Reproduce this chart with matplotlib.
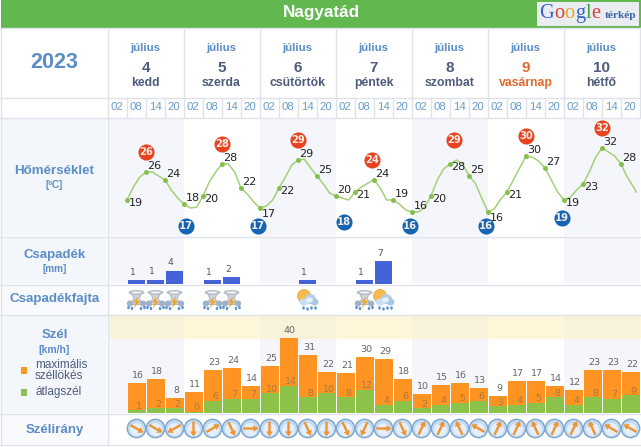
import numpy as np
import matplotlib
matplotlib.use("Agg")
import matplotlib.pyplot as plt
from matplotlib.patches import Rectangle, Circle, Ellipse, Polygon
from matplotlib.transforms import Affine2D

plt.rcParams['font.family'] = ['Liberation Sans', 'DejaVu Sans']

TITLE = "Nagyatád"
YEAR = "2023"
months = ["július"] * 7
day_numbers = ["4", "5", "6", "7", "8", "9", "10"]
weekdays = ["kedd", "szerda", "csütörtök", "péntek", "szombat", "vasárnap", "hétfő"]
hours = ["02", "08", "14", "20"]

temp_labels = [19, 26, 24, 18, 20, 28, 22, 17, 22, 29, 25, 20, 21, 24, 19, 16, 20, 28, 25, 16, 21, 30, 27, 19, 23, 32, 28]
temp_line = [19, 22.2, 24.7, 26, 26, 25, 24, 21.5, 19.5, 18, 17, 17.2, 20, 23.5, 26, 28, 28, 26, 22,
             20.5, 18.5, 17, 17.5, 19, 22, 24.7, 27.7, 29, 29.2, 27, 25, 23, 20.7, 20, 19.5, 19, 21,
             22.2, 23.2, 24, 22, 19, 19, 18, 16.5, 16, 16, 17.2, 20, 24, 26.8, 28, 29, 28, 25,
             23.2, 19.5, 16, 16.8, 19.2, 21, 24, 27, 30, 29.7, 28.7, 27, 24, 21, 19, 19.7, 21.5, 23,
             26, 29.7, 32, 31, 30, 28, 24.7, 22.2, 21]
temp_below = [1, 0, 0, 0, 1, 0, 0, 2, 1, 0, 0, 0, 1, 0, 0, 0, 1, 1, 0, 2, 1, 0, 0, 1, 1, 0, 0]
max_slots = [2.0, 6.0, 10.0, 13.9, 18.2, 22.0, 26.0]
max_values = [26, 28, 29, 24, 29, 30, 32]
min_slots = [4.1, 7.9, 12.4, 15.9, 19.9, 23.9]
min_values = [17, 17, 18, 16, 16, 19]

rain_slots = [1, 2, 3, 5, 6, 10, 13, 14]
rain_values = [1, 1.2, 4, 1, 2, 1, 1, 7]
rain_labels = ["1", "1", "4", "1", "2", "1", "1", "7"]
icon_slots = [1, 2, 3, 5, 6, 10, 13, 14]
icon_kinds = ["storm", "storm", "storm", "storm", "storm", "sun", "storm", "sun"]

gust = [16, 18, 8, 11, 23, 24, 14, 25, 40, 31, 22, 21, 30, 29, 18, 10, 15, 16, 13, 9, 17, 17, 14, 12, 23, 23, 22]
wind = [1, 2, 2, 0, 6, 7, 7, 10, 14, 8, 10, 8, 12, 4, 6, 2, 4, 5, 6, 3, 4, 5, 8, 4, 8, 7, 9]
bearing = [120, 120, 240, 180, 60, 155, 90, 180, 180, 155, 180, 155, 205, 90,
           155, 25, 25, 335, 300, 25, 25, 335, 25, 25, 335, 300, 300]

W, H = 641, 447
BLUE = "#5b8dc6"
DARK = "#4e5b7c"
SUN = "#dd6a2f"
LINE = "#dfe3e9"
SHADE = "#f4f6fb"
X0, SLOT = 108, 19

fig = plt.figure(figsize=(W / 100, H / 100), dpi=100, facecolor="white")
bg = fig.add_axes([0, 0, 1, 1])
bg.set_xlim(0, W); bg.set_ylim(H, 0); bg.axis("off")


def rect(x0, y0, x1, y1, color, z=1):
    bg.add_patch(Rectangle((x0, y0), x1 - x0, y1 - y0, fc=color, ec="none", zorder=z))


def label(x, y, s, size, color=BLUE, weight="bold", ha="center", **kw):
    bg.text(x, y, s, fontsize=size, color=color, fontweight=weight, ha=ha, va="center", **kw)


def panel(y0, y1, ylim):
    ax = fig.add_axes([X0 / W, 1 - y1 / H, SLOT * 28 / W, (y1 - y0) / H])
    ax.set_xlim(0, 28); ax.set_ylim(*ylim); ax.axis("off"); ax.patch.set_alpha(0)
    return ax


# ---- backgrounds and table rules
rect(1, 0, W, 28, "#62b84f")
rect(1, 118, 107, 236, "#f3f6fb")
rect(1, 237, 107, 284, "#f3f6fb")
rect(1, 285, 107, 314, "#f8fafd")
rect(1, 315, 107, 413, "#f3f6fb")
rect(1, 414, 107, 444, "#f8fafd")
rect(108, 315, W, 339, "#fdf6d9")
for d in (0, 2, 4, 6):
    x0, x1 = X0 + d * 76, X0 + (d + 1) * 76
    rect(x0, 118, x1, 236, SHADE)
    rect(x0, 237, x1, 284, SHADE)
    rect(x0, 339, x1, 413, SHADE)
    rect(x0, 315, x1, 339, "#f9f2da")
for y in (28, 98, 117.5, 236.5, 284.5, 314.5, 413.5, 444.5):
    bg.plot([0, W], [y, y], color=LINE, lw=1, zorder=2)
bg.plot([0.5, 0.5], [28, 445], color=LINE, lw=1, zorder=2)
bg.plot([107.5, 107.5], [28, 445], color=LINE, lw=1, zorder=2)
for d in range(1, 8):
    bg.plot([X0 + d * 76 - .5] * 2, [28, 98], color=LINE, lw=1, zorder=2)
for s in range(1, 29):
    bg.plot([X0 + s * SLOT - .5] * 2, [98, 117], color=LINE, lw=1, zorder=2)

# ---- header texts
label(321, 13, TITLE, 12.3, "white")
rect(537, 2, 639, 26, "#e9edf2", 2)
gx = 539
renderer = fig.canvas.get_renderer()
for ch, col in zip("Google", ["#3a62c4", "#d8402e", "#e5a825", "#3a62c4", "#3f9a45", "#d8402e"]):
    t = bg.text(gx, 13.5, ch, fontsize=14.6, family="Liberation Serif", color=col, va="center", ha="left", zorder=3)
    gx += t.get_window_extent(renderer).width + 0.3
bg.text(620.5, 15.5, "térkép", fontsize=8.2, family="Liberation Serif", fontweight="bold", color="#3a62a4",
        va="center", ha="center", zorder=3)
label(54.5, 63, YEAR, 15.5, "#5b8dc6")
for d in range(7):
    cx = X0 + (d + .5) * 76 - 0.5
    col = SUN if weekdays[d] == "vasárnap" else DARK
    label(cx, 48, months[d], 8.2, BLUE)
    label(cx, 68, day_numbers[d], 11, col)
    label(cx, 83, weekdays[d], 8.8, col)
    for h, hh in enumerate(hours):
        label(X0 + (d * 4 + h + .5) * SLOT - .5, 107.5, hh, 8.2, "#6a9ccb", weight="normal")

# ---- left column
label(54.5, 171, "Hőmérséklet", 9.6)
label(54.5, 185, "[ºC]", 7.2)
label(54.5, 255, "Csapadék", 9.5)
label(54.5, 269, "[mm]", 7.2)
label(54.5, 299, "Csapadékfajta", 9.6)
label(54.5, 335, "Szél", 9.5)
label(54.5, 350, "[km/h]", 7.5)
rect(21, 367, 27, 374, "#f59a23", 3)
rect(21, 389, 27, 396, "#8cc152", 3)
label(35, 365, "maximális", 8.5, DARK, "normal", "left")
label(35, 376, "széllökés", 8.5, DARK, "normal", "left")
label(35, 392, "átlagszél", 8.5, DARK, "normal", "left")
label(55, 430, "Szélirány", 9.5)

# ---- temperature
ax_t = panel(118, 236, (10, 39.5))
line_x = np.append(1 + np.arange(len(temp_line) - 1) / 3, 27.8)
ax_t.plot(line_x, temp_line, color="#a3d177", lw=1.1, zorder=3, solid_joinstyle="round")
mark_x = np.arange(1, len(temp_labels) + 1)
ax_t.plot(mark_x, temp_labels, ls="none", marker="o", ms=3.6, mfc="#86c04c", mec="none", zorder=4)
for x, v, b in zip(mark_x, temp_labels, temp_below):
    dy = {0: 6, 1: -3, 2: -6}[b]
    ax_t.annotate(str(v), (x, v), xytext=(8.5, dy), textcoords="offset pixels", ha="center", va="center",
                  fontsize=8, family="DejaVu Sans", color="#222222", zorder=5)
for xs, vs, col, f in ((max_slots, max_values, "#e8431f", lambda v: v + 5),
                       (min_slots, min_values, "#1665b2", lambda v: max(v - 4.5, 12.5))):
    for x, v in zip(xs, vs):
        ax_t.plot([x], [f(v)], ls="none", marker="o", ms=11.6, mfc=col, mec="none", zorder=6)
        ax_t.text(x, f(v), str(v), color="#f6ece8", fontsize=7.2, fontweight="bold", family="DejaVu Sans",
                  ha="center", va="center", zorder=7)

# ---- rain
ax_r = panel(240, 283.5, (0, 43.5 / 3.2))
rs = np.array(rain_slots) + .52
ax_r.bar(rs, rain_values, width=.9, color="#4563d8", zorder=3)
for x, v, s in zip(rs, rain_values, rain_labels):
    ax_r.annotate(s, (x, v), xytext=(-4, 8), textcoords="offset pixels", ha="center", va="center",
                  fontsize=6.6, family="DejaVu Sans", color="#555555")

# ---- precipitation type icons
ax_i = panel(285, 314, (0, 1))


def glyph(ax, x, y):
    cx, cy = ax.transData.transform((x, y))
    return Affine2D().scale(1, -1).translate(cx, cy)


def draw_drops(add, cols):
    for dx, dy in cols:
        add(Ellipse((dx, dy), 2.6, 3.4, fc="#5f93cc", ec="none"))


def storm(ax, x):
    tr = glyph(ax, x, .5)
    add = lambda p: (p.set_transform(tr), p.set_clip_on(False), ax.add_artist(p))
    add(Polygon([(-5, -6), (5, -6), (2.5, -1), (7, 5), (-7, 5), (-2.5, -1)], fc="#cdd3db", ec="#a9b2bd", lw=.6))
    add(Ellipse((0, -7), 16, 5, fc="#b4bcc7", ec="none"))
    add(Ellipse((0, -7), 10, 2.4, fc="#eef0f3", ec="none"))
    add(Ellipse((-6.5, 4), 6.5, 6, fc="#9fb2c7", ec="none"))
    add(Ellipse((6.5, 4), 6.5, 6, fc="#9fb2c7", ec="none"))
    add(Polygon([(1.5, -3), (-3.5, 3), (-.5, 3), (-3, 9), (3.5, 1.5), (.5, 1.5)], fc="#f2a31f", ec="none"))
    draw_drops(add, ((-8, 8), (-4.5, 9), (4.5, 9), (8, 8)))


def sunny(ax, x):
    tr = glyph(ax, x, .5)
    add = lambda p: (p.set_transform(tr), p.set_clip_on(False), ax.add_artist(p))
    add(Circle((-3.5, -3.5), 6.5, fc="#f7bb52", ec="#ec9f37", lw=.5))
    add(Ellipse((3, -.5), 11, 10, fc="#b4d0ea", ec="none"))
    add(Ellipse((-3.5, 2.5), 9, 7, fc="#c9def2", ec="none"))
    add(Ellipse((7, 2.5), 8, 7, fc="#a9c8e6", ec="none"))
    add(Ellipse((2, .5), 7, 5, fc="#e6f0fa", ec="none"))
    draw_drops(add, ((-4, 8.5), (0, 9.5), (4, 8.5), (8, 8.5)))


for s, k in zip(icon_slots, icon_kinds):
    (storm if k == "storm" else sunny)(ax_i, s + .5)

# ---- wind
ax_w = panel(322, 412.5, (-0.3, 90.5 / 1.86 - 0.3))
ws = np.arange(1, len(gust) + 1) + .52
ax_w.bar(ws, gust, width=.92, color="#ff9422", zorder=3, bottom=-0.3)
ax_w.bar(ws, np.array(wind) + .3, width=.92, color="#8cc24a", zorder=4, bottom=-0.3)
for x, g, v in zip(ws, gust, wind):
    ax_w.annotate(str(g), (x, g), xytext=(1, 7), textcoords="offset pixels", ha="center", va="center",
                  fontsize=6.8, family="DejaVu Sans", color="#666666", zorder=5)
    ax_w.annotate(str(v), (x, v), xytext=(2.5, 4), textcoords="offset pixels", ha="center", va="center",
                  fontsize=6.8, family="DejaVu Sans", color="#a9793f", zorder=5)

# ---- wind direction
ax_d = panel(414, 443, (0, 1))
for x, b in zip(ws, bearing):
    tr = glyph(ax_d, x - .02, .5)
    rot = Affine2D().rotate_deg(b - 180) + tr
    for p, t in ((Circle((0, 0), 9.2, fc="#c3daf2", ec="#7ea7cc", lw=1), tr),
                 (Circle((0, 1), 6.5, fc="#e4effa", ec="none"), tr),
                 (Polygon([(-1.2, -7), (1.2, -7), (1.2, 3), (3.4, 3), (0, 8), (-3.4, 3), (-1.2, 3)],
                          fc="#ef9431", ec="none"), rot)):
        p.set_transform(t); p.set_clip_on(False); ax_d.add_artist(p)

fig.savefig("out.png", dpi=100, facecolor="white")
